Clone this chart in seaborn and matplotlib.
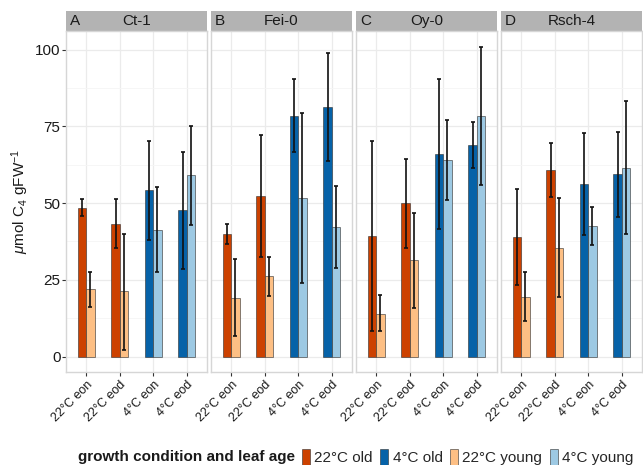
import numpy as np
import pandas as pd
import seaborn as sns
import matplotlib
matplotlib.use("Agg")
import matplotlib.pyplot as plt
from matplotlib.patches import Patch, Rectangle

# ---- data -------------------------------------------------------------
genotypes = ["Ct-1", "Fei-0", "Oy-0", "Rsch-4"]
panel_letters = ["A", "B", "C", "D"]
conditions = ["22°C eon", "22°C eod", "4°C eon", "4°C eod"]
condition_temp = ["22°C", "22°C", "4°C", "4°C"]
ages = ["old", "young"]

# mean values per genotype (rows) and condition (columns)
old_mean = [[48.4, 43.2, 54.2, 47.7],
            [40.0, 52.4, 78.4, 81.4],
            [39.3, 50.0, 66.0, 68.8],
            [38.8, 60.7, 56.1, 59.4]]
old_low = [[45.9, 35.2, 38.1, 28.6],
           [36.8, 32.5, 66.6, 63.7],
           [8.3, 35.5, 41.6, 61.5],
           [23.2, 52.1, 39.6, 45.4]]
old_high = [[51.3, 51.3, 70.2, 66.6],
            [43.2, 72.2, 90.4, 99.0],
            [70.2, 64.5, 90.4, 76.5],
            [54.6, 69.6, 72.7, 73.3]]

young_mean = [[21.9, 21.2, 41.3, 59.0],
              [19.1, 26.1, 51.7, 42.2],
              [14.0, 31.3, 64.1, 78.3],
              [19.5, 35.4, 42.5, 61.5]]
young_low = [[16.0, 2.1, 27.4, 42.9],
             [6.6, 19.7, 24.0, 28.7],
             [8.2, 15.7, 50.9, 55.8],
             [11.7, 19.4, 36.2, 39.8]]
young_high = [[27.6, 39.8, 55.3, 75.0],
              [31.7, 32.5, 79.4, 55.5],
              [19.9, 46.9, 77.2, 101.0],
              [27.6, 51.7, 48.7, 83.2]]

legend_labels = ["22°C old", "4°C old", "22°C young", "4°C young"]
colors = {
    ("22°C", "old"): "#CC4100",
    ("4°C", "old"): "#0662A8",
    ("22°C", "young"): "#FDBF84",
    ("4°C", "young"): "#9DC9E3",
}

# long table for seaborn
rows = []
for g_i, g in enumerate(genotypes):
    for c_i, c in enumerate(conditions):
        rows.append(dict(genotype=g, condition=c, temp=condition_temp[c_i], age="old",
                         value=old_mean[g_i][c_i], low=old_low[g_i][c_i], high=old_high[g_i][c_i]))
        rows.append(dict(genotype=g, condition=c, temp=condition_temp[c_i], age="young",
                         value=young_mean[g_i][c_i], low=young_low[g_i][c_i], high=young_high[g_i][c_i]))
df = pd.DataFrame(rows)

# ---- style ------------------------------------------------------------
sns.set_theme(style="white")
plt.rcParams["font.family"] = ["Liberation Sans", "DejaVu Sans"]
plt.rcParams["mathtext.fontset"] = "custom"
plt.rcParams["mathtext.rm"] = "Liberation Sans"
plt.rcParams["mathtext.it"] = "Liberation Sans:italic"

W, H = 643, 465
fig = plt.figure(figsize=(W / 100, H / 100), dpi=100)

left_px, right_px = 66, 642
top_px, bottom_px = 31, 372
gap_px = 4
panel_w = (right_px - left_px - 3 * gap_px) / 4
strip_h = 20

axes = []
for i in range(4):
    x0 = left_px + i * (panel_w + gap_px)
    ax = fig.add_axes([x0 / W, 1 - bottom_px / H, panel_w / W, (bottom_px - top_px) / H])
    axes.append(ax)

for g_i, (ax, g) in enumerate(zip(axes, genotypes)):
    sub = df[df.genotype == g]
    ax.set_axisbelow(True)
    sns.barplot(data=sub, x="condition", y="value", hue="age", order=conditions,
                hue_order=ages, width=0.5, errorbar=None, legend=False, ax=ax,
                saturation=1)
    # recolour each bar by temperature and leaf age, add error bars
    for container, age in zip(ax.containers, ages):
        for c_i, bar in enumerate(container):
            temp = condition_temp[c_i]
            bar.set_facecolor(colors[(temp, age)])
            bar.set_edgecolor((0.2, 0.2, 0.2, 0.6))
            bar.set_linewidth(0.7)
            row = sub[(sub.condition == conditions[c_i]) & (sub.age == age)].iloc[0]
            xc = bar.get_x() + bar.get_width() / 2
            ax.errorbar([xc], [row.value],
                        yerr=[[row.value - row.low], [row.high - row.value]],
                        fmt="none", ecolor="#111111", elinewidth=1.2,
                        capsize=1.6, capthick=1.2, zorder=5)

    ax.set_xlim(-0.6, 3.6)
    ax.set_ylim(-5.05, 106.05)
    ax.set_yticks([0, 25, 50, 75, 100])
    ax.set_yticks([12.5, 37.5, 62.5, 87.5], minor=True)
    ax.grid(True, which="major", color="#EBEBEB", linewidth=0.9)
    ax.grid(True, which="minor", axis="y", color="#F5F5F5", linewidth=0.6)
    for s in ax.spines.values():
        s.set_color("#D6D6D6")
        s.set_linewidth(1.0)
    ax.set_xlabel("")
    ax.set_ylabel("")
    ax.tick_params(axis="x", which="major", length=3, width=0.8, color="#333333",
                   labelsize=9, labelcolor="#1a1a1a", pad=2, bottom=True)
    ax.tick_params(axis="y", which="major", length=3, width=0.8, color="#333333",
                   labelsize=11, labelcolor="#1a1a1a", pad=1, left=(g_i == 0))
    ax.tick_params(axis="y", which="minor", length=0)
    plt.setp(ax.get_xticklabels(), rotation=45, ha="right", rotation_mode="anchor")
    if g_i > 0:
        ax.set_yticklabels([])

    # facet strip
    strip_frac = strip_h / (bottom_px - top_px)
    ax.add_patch(Rectangle((0, 1), 1, strip_frac, transform=ax.transAxes,
                           facecolor="#B3B3B3", edgecolor="none", clip_on=False))
    ax.text(0.5, 1 + strip_frac / 2, g, transform=ax.transAxes, ha="center",
            va="center", fontsize=11, color="#1a1a1a")
    ax.text(4 / panel_w, 1 + strip_frac / 2, panel_letters[g_i], transform=ax.transAxes,
            ha="left", va="center", fontsize=11, color="#1a1a1a")

axes[0].set_ylabel(r"$\mu$mol C$_4$ gFW$^{-1}$", fontsize=11, color="#1a1a1a", labelpad=3)

# legend along the bottom
handles = [Patch(facecolor=colors[k], edgecolor=(0.2, 0.2, 0.2, 0.6), linewidth=0.7)
           for k in [("22°C", "old"), ("4°C", "old"), ("22°C", "young"), ("4°C", "young")]]
fig.text(78 / W, 1 - 457 / H, "growth condition and leaf age", fontsize=11,
         fontweight="bold", ha="left", va="center", color="#1a1a1a")
fig.legend(handles, legend_labels, loc="center left", bbox_to_anchor=(302 / W, 1 - 457 / H),
           ncol=4, frameon=False, fontsize=11, handlelength=0.5, handleheight=1.2,
           handletextpad=0.3, columnspacing=0.5, borderaxespad=0, borderpad=0)

fig.savefig("out.png", dpi=100)
